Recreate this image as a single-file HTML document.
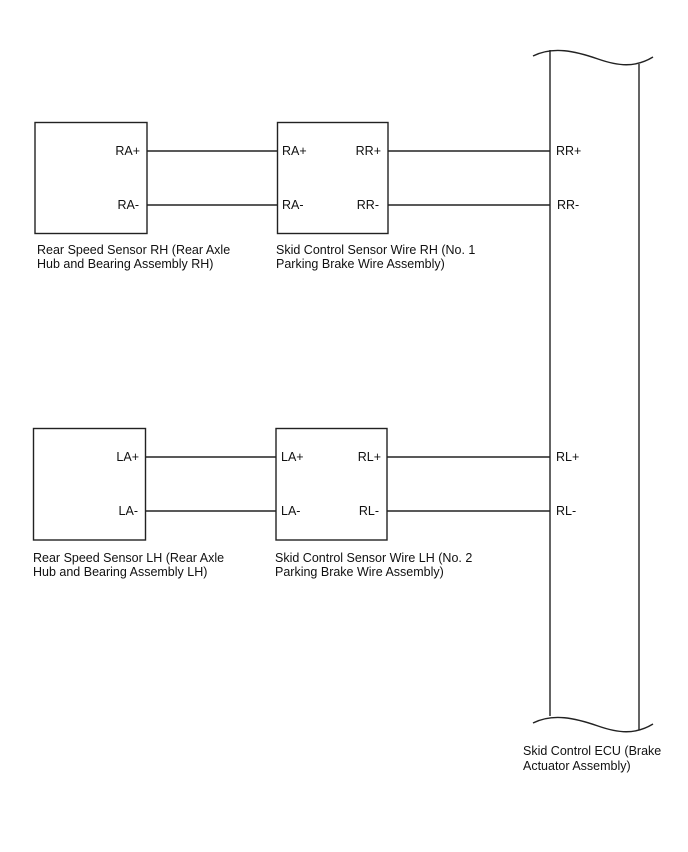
<!DOCTYPE html>
<html><head><meta charset="utf-8"><style>
html,body{margin:0;padding:0;background:#fff;}
svg{display:block;}
text{font-family:"Liberation Sans",Arial,sans-serif;font-size:12.5px;fill:#111;}
</style></head><body>
<svg width="688" height="852" viewBox="0 0 688 852" xmlns="http://www.w3.org/2000/svg">
<g stroke="#222" stroke-width="1.4" fill="none">
<!-- upper boxes -->
<rect x="35" y="122.5" width="112" height="111"/>
<rect x="277.5" y="122.5" width="110.5" height="111"/>
<!-- lower boxes -->
<rect x="33.5" y="428.5" width="112" height="111.5"/>
<rect x="276" y="428.5" width="111" height="111.5"/>
<!-- wires upper -->
<line x1="147" y1="151" x2="277.5" y2="151"/>
<line x1="147" y1="205" x2="277.5" y2="205"/>
<line x1="388" y1="151" x2="550" y2="151"/>
<line x1="388" y1="205" x2="550" y2="205"/>
<!-- wires lower -->
<line x1="145.5" y1="457" x2="276" y2="457"/>
<line x1="145.5" y1="511" x2="276" y2="511"/>
<line x1="387" y1="457" x2="550" y2="457"/>
<line x1="387" y1="511" x2="550" y2="511"/>
<!-- ECU -->
<line x1="550" y1="50" x2="550" y2="716"/>
<line x1="639" y1="64" x2="639" y2="730"/>
<path d="M533,56 C553,46 575,51 598,59 C618,66 635,68 653,57"/>
<path d="M533,723 C553,713 575,718 598,726 C618,733 635,735 653,724"/>
</g>
<!-- upper box labels -->
<text x="140" y="155" text-anchor="end">RA+</text>
<text x="139" y="209" text-anchor="end">RA-</text>
<text x="282" y="155">RA+</text>
<text x="282" y="209">RA-</text>
<text x="381" y="155" text-anchor="end">RR+</text>
<text x="379" y="209" text-anchor="end">RR-</text>
<text x="556" y="155">RR+</text>
<text x="557" y="209">RR-</text>
<!-- lower box labels -->
<text x="139" y="461" text-anchor="end">LA+</text>
<text x="138" y="515" text-anchor="end">LA-</text>
<text x="281" y="461">LA+</text>
<text x="281" y="515">LA-</text>
<text x="381" y="461" text-anchor="end">RL+</text>
<text x="379" y="515" text-anchor="end">RL-</text>
<text x="556" y="461">RL+</text>
<text x="556" y="515">RL-</text>
<!-- captions -->
<text x="37" y="254">Rear Speed Sensor RH (Rear Axle</text>
<text x="37" y="268">Hub and Bearing Assembly RH)</text>
<text x="276" y="254">Skid Control Sensor Wire RH (No. 1</text>
<text x="276" y="268">Parking Brake Wire Assembly)</text>
<text x="33" y="562">Rear Speed Sensor LH (Rear Axle</text>
<text x="33" y="576">Hub and Bearing Assembly LH)</text>
<text x="275" y="562">Skid Control Sensor Wire LH (No. 2</text>
<text x="275" y="576">Parking Brake Wire Assembly)</text>
<text x="523" y="755">Skid Control ECU (Brake</text>
<text x="523" y="770">Actuator Assembly)</text>
</svg>
</body></html>
